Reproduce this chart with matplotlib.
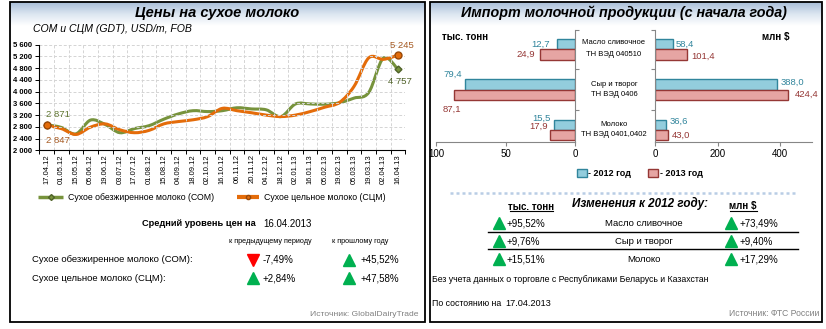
import numpy as np
import matplotlib
matplotlib.use('Agg')
import matplotlib.pyplot as plt
from matplotlib.path import Path
from matplotlib.patches import PathPatch, Rectangle
from matplotlib.colors import LinearSegmentedColormap

plt.rcParams['font.family'] = ['Liberation Sans', 'DejaVu Sans']
NARROW = ['Liberation Sans Narrow', 'Liberation Sans', 'DejaVu Sans']

W, H = 826, 329

# ---- data ----
dates = ['17.04.12', '01.05.12', '15.05.12', '05.06.12', '19.06.12', '03.07.12', '17.07.12',
         '01.08.12', '15.08.12', '04.09.12', '18.09.12', '02.10.12', '16.10.12', '06.11.12',
         '20.11.12', '04.12.12', '18.12.12', '02.01.13', '16.01.13', '05.02.13', '19.02.13',
         '05.03.13', '19.03.13', '02.04.13', '16.04.13']
som = [2871, 2780, 2560, 3030, 2880, 2600, 2740, 2840, 3060, 3240, 3350, 3320, 3350,
       3450, 3410, 3380, 3150, 3580, 3580, 3570, 3620, 3780, 3970, 5142, 4757]
scm = [2847, 2740, 2540, 2790, 2900, 2700, 2600, 2680, 2900, 2980, 3040, 3150, 3430,
       3350, 3280, 3200, 3150, 3200, 3320, 3470, 3630, 4180, 5150, 5100, 5245]

price_rows = ['Сухое обезжиренное молоко (СОМ):', 'Сухое цельное молоко (СЦМ):']
change_prev = [-7.49, 2.84]
change_year = [45.52, 47.58]

products = ['Масло сливочное', 'Сыр и творог', 'Молоко']
tn_codes = ['ТН ВЭД 040510', 'ТН ВЭД 0406', 'ТН ВЭД 0401,0402']
tonnes_2012 = [12.7, 79.4, 15.5]
tonnes_2013 = [24.9, 87.1, 17.9]
usd_2012 = [58.4, 388.0, 36.6]
usd_2013 = [101.4, 424.4, 43.0]
change_tonnes = [95.52, 9.76, 15.51]
change_usd = [73.49, 9.40, 17.29]

GREEN, ORANGE = '#77933C', '#E46C0A'
C12, C12E, C13, C13E = '#93CDDD', '#31859C', '#E6A5A3', '#953735'


def box(x0, y0, x1, y1):
    return [x0 / W, 1 - y1 / H, (x1 - x0) / W, (y1 - y0) / H]


def pct(v):
    return f'{v:+.2f}%'.replace('.', ',')


def num(v):
    return f'{v:.1f}'.replace('.', ',')


def smooth_path(xs, ys):
    # excel-like smoothed line through the points (bezier segments)
    n = len(xs)
    verts, codes = [(xs[0], ys[0])], [Path.MOVETO]
    for i in range(n - 1):
        p0 = (xs[max(i - 1, 0)], ys[max(i - 1, 0)])
        p1 = (xs[i], ys[i])
        p2 = (xs[i + 1], ys[i + 1])
        p3 = (xs[min(i + 2, n - 1)], ys[min(i + 2, n - 1)])
        c1 = (p1[0] + (p2[0] - p0[0]) / 6, p1[1] + (p2[1] - p0[1]) / 6)
        c2 = (p2[0] - (p3[0] - p1[0]) / 6, p2[1] - (p3[1] - p1[1]) / 6)
        verts += [c1, c2, p2]
        codes += [Path.CURVE4] * 3
    return Path(verts, codes)


def triangle(ax, x, y, v):
    if v >= 0:
        ax.plot(x, y, marker='^', color='#00B050', ms=8, mec='#00B050')
    else:
        ax.plot(x, y, marker='v', color='#FF0000', ms=8, mec='#FF0000')


fig = plt.figure(figsize=(W / 100, H / 100), dpi=100)

# background / annotation layer in pixel coordinates
bg = fig.add_axes([0, 0, 1, 1], zorder=0)
grad = np.linspace(0, 1, 60).reshape(-1, 1)
cmap = LinearSegmentedColormap.from_list('hdr', ['#A9BED8', '#DCE6F1', '#FFFFFF'])
for x0, x1 in [(10, 425), (430, 822)]:
    bg.imshow(grad, extent=(x0, x1, 26, 2), cmap=cmap, aspect='auto', origin='upper')
    bg.add_patch(Rectangle((x0, 2), x1 - x0, 319.7, fill=False, ec='black', lw=1.3))
bg.set_xlim(0, W)
bg.set_ylim(H, 0)
bg.axis('off')

# ---- left panel ----
bg.text(217, 12.5, 'Цены на сухое молоко', ha='center', va='center', fontsize=10.5,
        fontweight='bold', style='italic')
bg.text(33, 29, 'СОМ и СЦМ (GDT), USD/m, FOB', ha='left', va='center', fontsize=7.6, style='italic')

ax = fig.add_axes(box(39.3, 44.7, 405.3, 150.3), zorder=2)
ax.set_facecolor('none')
x = np.arange(len(dates))
ax.set_xlim(-0.5, len(dates) - 0.5)
ax.set_ylim(2000, 5600)
yt = np.arange(2000, 5601, 400)
ax.set_yticks(yt)
ax.set_yticklabels([f'{v:,}'.replace(',', ' ') for v in yt], fontsize=5.5, fontweight='bold')
ax.set_xticks(x)
ax.set_xticklabels(dates, rotation=90, fontsize=5.5)
ax.set_xticks(np.arange(-0.5, len(dates)), minor=True)
ax.tick_params(axis='x', which='major', length=0, pad=3)
ax.tick_params(axis='x', which='minor', length=3, width=0.7)
ax.tick_params(axis='y', length=3, width=0.7, pad=2)
ax.grid(which='minor', axis='x', ls=(0, (3, 2)), color='#D4D4D4', lw=0.7)
ax.grid(which='major', axis='y', ls=(0, (3, 2)), color='#D4D4D4', lw=0.7)
ax.grid(which='major', axis='x', visible=False)
for s in ['top', 'right']:
    ax.spines[s].set_visible(False)
for s in ['left', 'bottom']:
    ax.spines[s].set_linewidth(0.8)

ax.add_patch(PathPatch(smooth_path(x, som), fill=False, ec=GREEN, lw=2.2, capstyle='round'))
ax.add_patch(PathPatch(smooth_path(x, scm), fill=False, ec=ORANGE, lw=2.2, capstyle='round'))
ax.plot(x[[0, -1]], [som[0], som[-1]], 'D', ms=3.5, mfc=GREEN, mec='#4F6228', clip_on=False)
ax.plot(x[[0, -1]], [scm[0], scm[-1]], 'o', ms=5, mfc=ORANGE, mec='#984807', clip_on=False)

lab = dict(textcoords='offset pixels', fontsize=6.8, va='center', ha='left', annotation_clip=False)
fmt = lambda v: f'{v:,}'.replace(',', ' ')
ax.annotate(fmt(som[0]), (x[0], som[0]), xytext=(-1, 10), color='#5F7530', **lab)
ax.annotate(fmt(scm[0]), (x[0], scm[0]), xytext=(-1, -15), color='#A65A22', **lab)
ax.annotate(fmt(scm[-1]), (x[-1], scm[-1]), xytext=(-8, 10), color='#A65A22', **lab)
ax.annotate(fmt(som[-1]), (x[-1], som[-1]), xytext=(-10, -12), color='#4F6228', **lab)

# legend
bg.plot([38, 63], [197, 197], color=GREEN, lw=2.5, solid_capstyle='butt')
bg.plot([50.5], [197], 'D', ms=3, mfc=GREEN, mec='#4F6228')
bg.text(68, 197, 'Сухое обезжиренное молоко (СОМ)', fontsize=6.3, va='center')
bg.plot([237, 259], [197, 197], color=ORANGE, lw=3, solid_capstyle='butt')
bg.plot([248], [197], 'o', ms=3, mfc=ORANGE, mec='#984807')
bg.text(264, 197, 'Сухое цельное молоко (СЦМ)', fontsize=6.3, va='center')

bg.text(142, 224, 'Средний уровень цен на', fontsize=6.7, fontweight='bold', va='center')
bg.text(263, 224, '16.04.2013', fontsize=7, va='center')
bg.text(270, 241.5, 'к предыдущему периоду', fontsize=5.2, ha='center', va='center', family=NARROW)
bg.text(360, 241.5, 'к прошлому году', fontsize=5.2, ha='center', va='center', family=NARROW)
for i, name in enumerate(price_rows):
    yy = 260 + i * 18.3
    bg.text(32, yy, name, fontsize=6.8, va='center')
    triangle(bg, 252.5, yy, change_prev[i])
    bg.text(263, yy, pct(change_prev[i]), fontsize=7, va='center')
    triangle(bg, 349, yy, change_year[i])
    bg.text(361, yy, pct(change_year[i]), fontsize=7, va='center')
bg.text(418, 315, 'Источник: GlobalDairyTrade', fontsize=6.1, ha='right', va='center', color='#808080')

# ---- right panel ----
bg.text(624, 12.5, 'Импорт молочной продукции (с начала года)', ha='center', va='center',
        fontsize=10.3, fontweight='bold', style='italic')
bg.text(442, 37, 'тыс. тонн', fontsize=7, fontweight='bold', va='center')
bg.text(762, 37, 'млн $', fontsize=7, fontweight='bold', va='center')

pos = np.arange(len(products))
ylim = (2.29, -0.478)
bh = 0.255
axl = fig.add_axes(box(436.4, 30, 575, 141.7), zorder=2)
axr = fig.add_axes(box(655, 30, 811.7, 141.7), zorder=2)
for a, v12, v13 in [(axl, tonnes_2012, tonnes_2013), (axr, usd_2012, usd_2013)]:
    a.set_facecolor('none')
    a.barh(pos - bh / 2, v12, height=bh, color=C12, edgecolor=C12E, lw=1)
    a.barh(pos + bh / 2, v13, height=bh, color=C13, edgecolor=C13E, lw=1)
    a.set_ylim(*ylim)
    a.set_yticks([-0.47, 0.5, 1.5])
    a.set_yticklabels([])
    a.spines['top'].set_visible(False)
    for s in a.spines.values():
        s.set_color('#868686')
    a.tick_params(length=3, color='#868686', labelsize=7, pad=2)

axl.set_xlim(100, 0)
axl.set_xticks([100, 50, 0])
axl.spines['left'].set_visible(False)
axl.yaxis.tick_right()
axr.set_xlim(0, 500)
axr.set_xticks([0, 200, 400])
axr.spines['right'].set_visible(False)

blab = dict(textcoords='offset pixels', fontsize=6.8, va='center', annotation_clip=False)
l12_off = [(-7, 0), (-3, 10), (-3, 7)]
l13_off = [(-5, 0), (7, -15), (-2, 9)]
r12_off = [(2, 0), (4, 2), (3, 4)]
r13_off = [(5, -2), (7, 0), (3, 0)]
for i in range(len(products)):
    axl.annotate(num(tonnes_2012[i]), (tonnes_2012[i], pos[i] - bh / 2), xytext=l12_off[i],
                 ha='right', color=C12E, **blab)
    axl.annotate(num(tonnes_2013[i]), (tonnes_2013[i], pos[i] + bh / 2), xytext=l13_off[i],
                 ha='right', color=C13E, **blab)
    axr.annotate(num(usd_2012[i]), (usd_2012[i], pos[i] - bh / 2), xytext=r12_off[i],
                 ha='left', color=C12E, **blab)
    axr.annotate(num(usd_2013[i]), (usd_2013[i], pos[i] + bh / 2), xytext=r13_off[i],
                 ha='left', color=C13E, **blab)

cat_y = [(42.7, 54.3), (84, 95), (124, 135)]
for i in range(len(products)):
    bg.text(614, cat_y[i][0], products[i], fontsize=5.5, ha='center', va='center', family=NARROW)
    bg.text(614, cat_y[i][1], tn_codes[i], fontsize=5.5, ha='center', va='center', family=NARROW)

# legend
bg.add_patch(Rectangle((577, 169), 10, 8, fc=C12, ec=C12E, lw=1))
bg.text(588, 173, '- 2012 год', fontsize=6.5, fontweight='bold', va='center')
bg.add_patch(Rectangle((648, 169), 10, 8, fc=C13, ec=C13E, lw=1))
bg.text(660, 173, '- 2013 год', fontsize=6.5, fontweight='bold', va='center')

bg.plot([450, 797], [193.3, 193.3], color='#B9CDE5', lw=1.8, ls=(0, (1.2, 1.2)))

bg.text(531.5, 206.5, 'тыс. тонн', fontsize=7, fontweight='bold', ha='center', va='center')
bg.plot([510, 553], [211, 211], color='black', lw=0.8)
bg.text(640, 203, 'Изменения к 2012 году:', fontsize=8.4, fontweight='bold', style='italic',
        ha='center', va='center')
bg.text(743, 206.5, 'млн $', fontsize=7, fontweight='bold', ha='center', va='center')
bg.plot([730, 757], [211, 211], color='black', lw=0.8)

for i in range(len(products)):
    yy = 223.3 + i * 17.9
    triangle(bg, 499, yy, change_tonnes[i])
    bg.text(507, yy, pct(change_tonnes[i]), fontsize=7, va='center')
    bg.text(643.5, yy, products[i], fontsize=6.8, ha='center', va='center')
    triangle(bg, 731, yy, change_usd[i])
    bg.text(740, yy, pct(change_usd[i]), fontsize=7, va='center')
for yy in [231.7, 249.3]:
    bg.plot([487.7, 797.7], [yy, yy], color='black', lw=1)

bg.text(432, 279.3, 'Без учета данных о торговле с Республиками Беларусь и Казахстан',
        fontsize=6.3, va='center')
bg.text(432, 303.3, 'По состоянию на', fontsize=6.3, va='center')
bg.text(505, 303.3, '17.04.2013', fontsize=6.6, va='center')
bg.text(819, 314, 'Источник: ФТС России', fontsize=6.2, ha='right', va='center', color='#808080')

fig.savefig('out.png', dpi=100)
